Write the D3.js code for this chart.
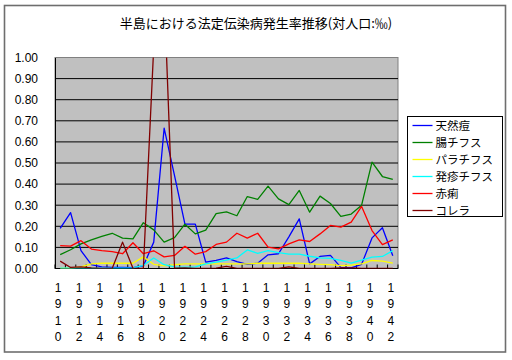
<!DOCTYPE html>
<html><head><meta charset="utf-8">
<script src="https://cdn.jsdelivr.net/npm/d3@7"></script>
<style>body{margin:0;background:#fff}svg{display:block}</style>
</head><body>
<script>
const title = "半島における法定伝染病発生率推移(対人口:‰)";
const years = [1910,1911,1912,1913,1914,1915,1916,1917,1918,1919,1920,1921,1922,1923,1924,1925,1926,1927,1928,1929,1930,1931,1932,1933,1934,1935,1936,1937,1938,1939,1940,1941,1942];
const xTickLabels = ["1910","1912","1914","1916","1918","1920","1922","1924","1926","1928","1930","1932","1934","1936","1938","1940","1942"];
const yTicks = [0,0.1,0.2,0.3,0.4,0.5,0.6,0.7,0.8,0.9,1.0];
const seriesNames = ["天然痘","腸チフス","パラチフス","発疹チフス","赤痢","コレラ"];
const seriesColors = ["#0000ff","#008000","#ffff00","#00ffff","#ff0000","#800000"];
const smallpox = [0.19,0.265,0.085,0.018,0.008,0.005,0.005,0.004,0.012,0.125,0.665,0.44,0.21,0.21,0.03,0.038,0.05,0.033,0.02,0.025,0.065,0.07,0.15,0.235,0.022,0.057,0.062,0.005,0.003,0.02,0.145,0.193,0.06];
const typhoid = [0.066,0.089,0.117,0.136,0.152,0.167,0.144,0.14,0.217,0.183,0.125,0.146,0.21,0.164,0.182,0.26,0.268,0.25,0.341,0.328,0.39,0.33,0.303,0.37,0.267,0.343,0.308,0.247,0.258,0.30,0.504,0.436,0.422];
const paratyphoid = [0.002,0.002,0.008,0.022,0.025,0.025,0.025,0.025,0.055,0.02,0.012,0.018,0.022,0.022,0.022,0.022,0.022,0.022,0.022,0.025,0.025,0.025,0.025,0.025,0.022,0.02,0.018,0.014,0.016,0.022,0.038,0.035,0.025];
const typhus = [0.002,0.002,0.002,0.002,0.002,0.002,0.002,0.003,0.015,0.05,0.018,0.008,0.006,0.008,0.022,0.03,0.04,0.05,0.088,0.072,0.085,0.075,0.068,0.068,0.058,0.05,0.048,0.038,0.025,0.04,0.054,0.057,0.085];
const dysentery = [0.108,0.106,0.132,0.092,0.085,0.08,0.07,0.122,0.07,0.084,0.055,0.062,0.105,0.068,0.08,0.114,0.125,0.167,0.144,0.167,0.101,0.093,0.117,0.136,0.128,0.164,0.204,0.196,0.22,0.294,0.18,0.113,0.136];
const cholera = [0.035,0.005,0.008,0.003,0.001,0,0.125,0.001,0,1.05,1.31,0.002,0.003,0,0,0.002,0.01,0,0,0,0,0,0.008,0,0,0,0,0.003,0.003,0,0,0,0];
const seriesValues = [smallpox,typhoid,paratyphoid,typhus,dysentery,cholera];

const W=512,H=360;
const svg=d3.select("body").append("svg").attr("width",W).attr("height",H);
svg.append("rect").attr("x",4.5).attr("y",5.5).attr("width",501).attr("height",346.5)
  .attr("fill","#fff").attr("stroke","#6e6e6e").attr("stroke-width",1.6);

const L=55,R=398,T=57.5,B=268.5;
const x=d3.scaleBand().domain(years).range([L,R]);
const y=d3.scaleLinear().domain([0,1]).range([B,T]);
const cx=d=>x(d)+x.bandwidth()/2;

svg.append("text").attr("x",256).attr("y",28).attr("text-anchor","middle")
  .attr("font-family","'Noto Sans CJK JP',sans-serif").attr("font-size",13).text(title);

svg.append("rect").attr("x",L).attr("y",T).attr("width",R-L).attr("height",B-T)
  .attr("fill","#c0c0c0").attr("stroke","#808080").attr("stroke-width",1);

const g=svg.append("g");
g.selectAll("line.grid").data(yTicks.filter(v=>v>0&&v<1)).join("line")
  .attr("x1",L).attr("x2",R).attr("y1",d=>y(d)).attr("y2",d=>y(d))
  .attr("stroke","#000").attr("stroke-width",1);

// y axis labels
const yAxis=d3.axisLeft(y).tickValues(yTicks).tickFormat(d3.format(".2f")).tickSize(0).tickPadding(17);
const ya=svg.append("g").attr("transform",`translate(${L},0)`).call(yAxis);
ya.select(".domain").attr("stroke","#000");
ya.selectAll("text").attr("font-family","'Liberation Sans',Arial,sans-serif").attr("font-size",12).attr("fill","#000");

// x axis line and inner ticks between categories
svg.append("line").attr("x1",L).attr("x2",R).attr("y1",B).attr("y2",B).attr("stroke","#000");
svg.selectAll("line.xt").data(years).join("line")
  .attr("x1",d=>x(d)).attr("x2",d=>x(d)).attr("y1",B).attr("y2",B-4).attr("stroke","#000");
svg.append("line").attr("x1",R).attr("x2",R).attr("y1",B).attr("y2",B-4).attr("stroke","#000");

// x labels: stacked digits
const xl=svg.append("g").attr("font-family","'Liberation Sans',Arial,sans-serif").attr("font-size",12);
xTickLabels.forEach(lbl=>{
  const t=xl.append("text").attr("text-anchor","middle");
  lbl.split("").forEach((ch,i)=>{
    t.append("tspan").attr("x",cx(+lbl)-2).attr("y",291.5+i*16.5).text(ch);
  });
});

// clip
svg.append("clipPath").attr("id","pc").append("rect").attr("x",L).attr("y",T).attr("width",R-L).attr("height",B-T);
const line=d3.line().x((d,i)=>cx(years[i])).y(d=>y(d));
const lg=svg.append("g").attr("clip-path","url(#pc)");
seriesValues.forEach((vals,k)=>{
  lg.append("path").attr("d",line(vals)).attr("fill","none")
    .attr("stroke",seriesColors[k]).attr("stroke-width",1.3).attr("stroke-linejoin","round");
});

// legend
const lx=407.5,ly=116.5,lw=95,lh=100;
svg.append("rect").attr("x",lx).attr("y",ly).attr("width",lw).attr("height",lh)
  .attr("fill","#fff").attr("stroke","#000");
seriesNames.forEach((n,k)=>{
  const yy=ly+9+k*17;
  svg.append("line").attr("x1",lx+5).attr("x2",lx+25).attr("y1",yy).attr("y2",yy)
    .attr("stroke",seriesColors[k]).attr("stroke-width",1.3);
  svg.append("text").attr("x",lx+28).attr("y",yy+4.2)
    .attr("font-family","'Noto Sans CJK JP',sans-serif").attr("font-size",11.5).text(n);
});
</script>
</body></html>
